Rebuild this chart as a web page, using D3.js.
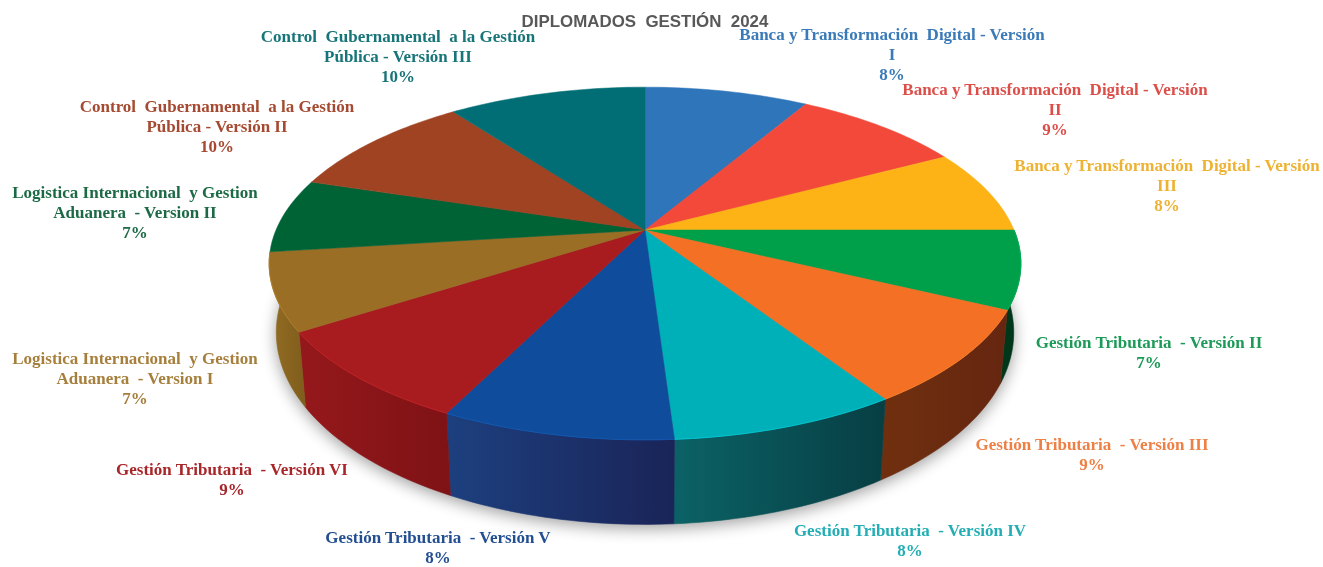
<!DOCTYPE html>
<html>
<head>
<meta charset="utf-8">
<title>Diplomados Gestión 2024</title>
<script src="https://cdn.jsdelivr.net/npm/d3@7"></script>
<style>
  html, body { margin: 0; padding: 0; background: #fff; overflow: hidden; }
  svg { display: block; }
  text { white-space: pre; }
</style>
</head>
<body>
<div id="chart"></div>
<script>
const chartTitle = "DIPLOMADOS  GESTIÓN  2024";

const categories = [
  "Banca y Transformación  Digital - Versión\nI",
  "Banca y Transformación  Digital - Versión\nII",
  "Banca y Transformación  Digital - Versión\nIII",
  "Gestión Tributaria  - Versión II",
  "Gestión Tributaria  - Versión III",
  "Gestión Tributaria  - Versión IV",
  "Gestión Tributaria  - Versión V",
  "Gestión Tributaria  - Versión VI",
  "Logistica Internacional  y Gestion\nAduanera  - Version I",
  "Logistica Internacional  y Gestion\nAduanera  - Version II",
  "Control  Gubernamental  a la Gestión\nPública - Versión II",
  "Control  Gubernamental  a la Gestión\nPública - Versión III"
];

// porcentajes estimados de la imagen (las etiquetas muestran el redondeo)
const values = [8.47, 8.78, 7.75, 7.14, 8.64, 8.19, 8.39, 8.56, 7.08, 6.81, 9.97, 10.22];

const topColors = ["#2e75b9", "#f2493a", "#fdb215", "#00a04b", "#f37024", "#00b0b9",
                   "#0f4c9b", "#a81c20", "#9b6e26", "#006336", "#a04322", "#006e74"];
const sideLight = ["#2a6aa8", "#c93c30", "#d09010", "#00401f", "#70300f", "#0b6266",
                   "#1d3f7e", "#94181b", "#8f6a22", "#00401f", "#803418", "#005a5e"];
const sideDark  = ["#1f5080", "#a02c24", "#a87408", "#00351a", "#662610", "#073f44",
                   "#1a2458", "#7e1215", "#7f5c1c", "#00351a", "#6a2a12", "#004a4e"];
const labelColors = ["#3a7ab8", "#dc4f4a", "#eeb232", "#1d9a58", "#ee7f45", "#22aeb4",
                     "#244f92", "#a8282c", "#a67f3c", "#1d6a45", "#a54a30", "#187479"];

const width = 1323, height = 567;

// centro de cada etiqueta: x, y de la primera línea
const labelAnchors = [
  [892, 40], [1055, 95], [1167, 171], [1149, 348], [1092, 450], [910, 536],
  [438, 543], [232, 475], [135, 364], [135, 198], [217, 112], [398, 42]
];

const svg = d3.select("#chart").append("svg")
  .attr("width", width)
  .attr("height", height);

const defs = svg.append("defs");
defs.append("filter").attr("id", "soft")
  .attr("x", "-5%").attr("y", "-20%").attr("width", "110%").attr("height", "140%")
  .append("feGaussianBlur").attr("stdDeviation", 0.35);
defs.append("filter").attr("id", "shadow")
  .attr("x", "-10%").attr("y", "-10%").attr("width", "120%").attr("height", "120%")
  .append("feGaussianBlur").attr("stdDeviation", 8);

// perspectiva: el círculo de la torta se proyecta con un factor de fuga k
const k = 0.19;
const topX = d3.scaleLinear().domain([-1, 1]).range([645 - 369, 645 + 369]);
const topY = d3.scaleLinear().domain([-1, 1]).range([230 + 170, 230 - 170]);
const baseX = d3.scaleLinear().domain([-1, 1]).range([645 - 362, 645 + 362]);
const baseY = d3.scaleLinear().domain([-1, 1]).range([296 + 185, 296 - 185]);

function project(scaleX, scaleY, a) {
  const u = Math.sin(a), v = Math.cos(a), w = 1 + k * v;
  return [scaleX(u / w), scaleY(v / w)];
}

function rim(scaleX, scaleY, a0, a1) {
  const n = Math.max(2, Math.ceil((a1 - a0) / 0.02));
  return d3.range(n + 1).map(i => project(scaleX, scaleY, a0 + (a1 - a0) * i / n));
}

const arcs = d3.pie().sort(null).value(d => d)(values);
const line = d3.line();
const closed = pts => line(pts) + "Z";
const color = d3.scaleOrdinal().domain(categories).range(topColors);

// solo los sectores de adelante tienen pared visible; el primero y el último
// se alargan por abajo hasta la silueta
const FIRST_WALL = 3, LAST_WALL = 8, WALL_OVERRUN = 0.35;
const frontArcs = arcs.filter(d => d.index >= FIRST_WALL && d.index <= LAST_WALL);

const wallBase = d => rim(baseX, baseY,
  d.startAngle - (d.index === FIRST_WALL ? WALL_OVERRUN : 0),
  d.endAngle + (d.index === LAST_WALL ? WALL_OVERRUN : 0));

// sombra bajo la base
svg.append("path")
  .attr("d", closed(rim(baseX, baseY, 0, 2 * Math.PI)))
  .attr("transform", "translate(0,4)")
  .attr("fill", "#000")
  .attr("opacity", 0.38)
  .attr("filter", "url(#shadow)");

frontArcs.forEach(d => {
  const xs = d3.extent(wallBase(d), p => p[0]);
  defs.append("linearGradient")
    .attr("id", "side" + d.index)
    .attr("gradientUnits", "userSpaceOnUse")
    .attr("x1", xs[0]).attr("x2", xs[1])
    .attr("y1", 0).attr("y2", 0)
    .selectAll("stop")
    .data([sideLight[d.index], sideDark[d.index]])
    .join("stop")
    .attr("offset", (c, i) => i)
    .attr("stop-color", c => c);
});

// caras laterales
svg.append("g").selectAll("path")
  .data(frontArcs)
  .join("path")
  .attr("d", d => closed(rim(topX, topY, d.startAngle, d.endAngle).concat(wallBase(d).reverse())))
  .attr("fill", d => `url(#side${d.index})`)
  .attr("stroke", d => `url(#side${d.index})`)
  .attr("stroke-width", 0.6);

// cara superior
svg.append("g").selectAll("path")
  .data(arcs)
  .join("path")
  .attr("d", d => closed([[topX(0), topY(0)]].concat(rim(topX, topY, d.startAngle, d.endAngle))))
  .attr("fill", (d, i) => color(categories[i]))
  .attr("stroke", (d, i) => color(categories[i]))
  .attr("stroke-width", 0.5);

// brillo del borde frontal
svg.append("g").selectAll("path")
  .data(frontArcs)
  .join("path")
  .attr("d", d => line(rim(topX, topY, d.startAngle, d.endAngle)))
  .attr("fill", "none")
  .attr("stroke", d => d3.color(color(categories[d.index])).brighter(0.5))
  .attr("stroke-width", 1)
  .attr("opacity", 0.7);

// título
svg.append("text")
  .attr("x", 645)
  .attr("y", 27)
  .attr("text-anchor", "middle")
  .attr("font-family", "Liberation Sans")
  .attr("font-weight", "bold")
  .attr("font-size", 16.9)
  .attr("fill", "#595959")
  .attr("filter", "url(#soft)")
  .text(chartTitle);

// etiquetas
const labels = svg.append("g")
  .attr("font-family", "Liberation Serif")
  .attr("font-weight", "bold")
  .attr("font-size", 17)
  .attr("text-anchor", "middle")
  .attr("filter", "url(#soft)");

arcs.forEach((d, i) => {
  const rows = categories[i].split("\n").concat(Math.round(values[i]) + "%");
  labels.append("text")
    .attr("fill", labelColors[i])
    .selectAll("tspan")
    .data(rows)
    .join("tspan")
    .attr("x", labelAnchors[i][0])
    .attr("y", (r, j) => labelAnchors[i][1] + j * 20)
    .text(r => r);
});
</script>
</body>
</html>
